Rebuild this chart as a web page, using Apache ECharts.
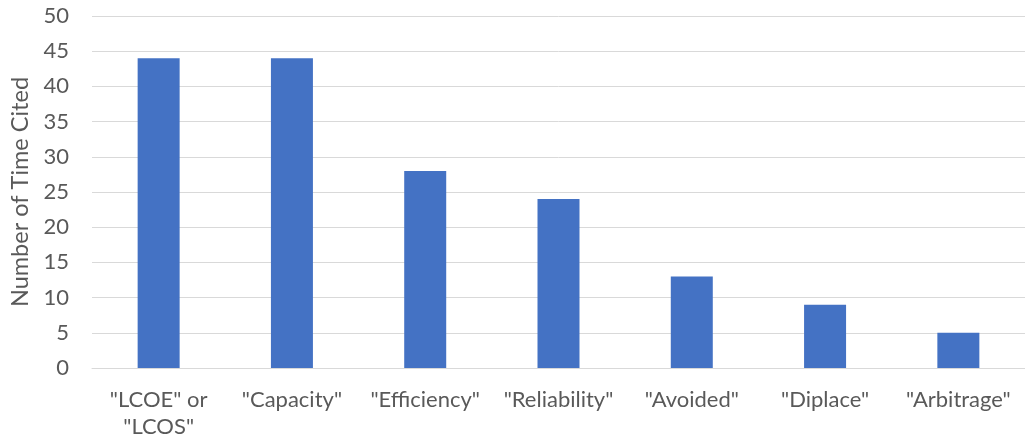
<!DOCTYPE html>
<html>
<head>
<meta charset="utf-8">
<script src="https://cdn.jsdelivr.net/npm/echarts@6/dist/echarts.min.js"></script>
<style>
  html, body { margin: 0; padding: 0; background: #ffffff; }
  #chart { width: 1025px; height: 440px; }
</style>
</head>
<body>
<div id="chart"></div>
<script>
// Citation counts per valuation term
const categories = ['"LCOE" or\n"LCOS"', '"Capacity"', '"Efficiency"', '"Reliability"', '"Avoided"', '"Diplace"', '"Arbitrage"'];
const citations = [44, 44, 28, 24, 13, 9, 5];
const yTicks = { min: 0, max: 50, interval: 5 };

const textColor = '#595959';
const fontFamily = 'Lato, "Open Sans", sans-serif';

const chart = echarts.init(document.getElementById('chart'), null, { renderer: 'canvas' });
chart.setOption({
  animation: false,
  backgroundColor: '#ffffff',
  grid: { left: 91, top: 16, width: 942, height: 352, containLabel: false },
  xAxis: {
    type: 'category',
    data: categories,
    axisLine: { show: true, lineStyle: { color: '#d9d9d9', width: 1 } },
    axisTick: { show: false },
    axisLabel: {
      color: textColor, fontFamily: fontFamily, fontSize: 22,
      margin: 18, lineHeight: 27, interval: 0
    }
  },
  yAxis: {
    type: 'value',
    min: yTicks.min, max: yTicks.max, interval: yTicks.interval,
    name: 'Number of Time Cited',
    nameLocation: 'middle',
    nameGap: 60,
    nameTextStyle: { color: textColor, fontFamily: fontFamily, fontSize: 23.5 },
    axisLine: { show: false },
    axisTick: { show: false },
    axisLabel: { color: textColor, fontFamily: fontFamily, fontSize: 22, margin: 23 },
    splitLine: { show: true, lineStyle: { color: '#d9d9d9', width: 1 } }
  },
  series: [{
    type: 'bar',
    data: citations,
    barWidth: 42,
    itemStyle: { color: '#4472c4' }
  }]
});
</script>
</body>
</html>
